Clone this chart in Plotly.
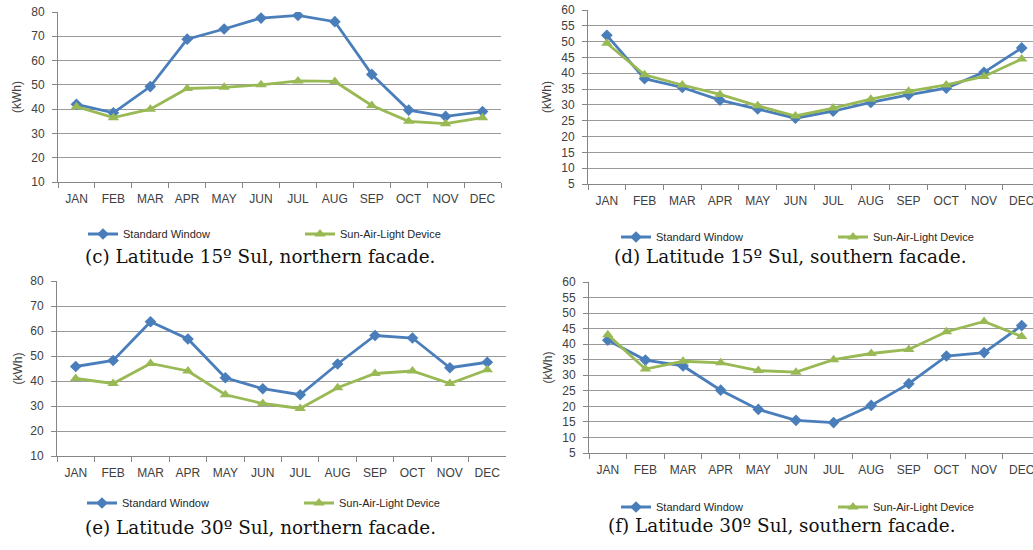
import plotly.graph_objects as go

months = ["JAN", "FEB", "MAR", "APR", "MAY", "JUN", "JUL", "AUG", "SEP", "OCT", "NOV", "DEC"]

# (c) Latitude 15º Sul, northern facade
c_std = [42, 38.5, 49.3, 68.8, 73, 77.5, 78.6, 76, 54.3, 39.6, 37, 39]
c_sal = [41, 36.5, 40, 48.5, 49, 50, 51.6, 51.4, 41.5, 35, 34, 36.5]
# (d) Latitude 15º Sul, southern facade
d_std = [52, 38.3, 35.5, 31.5, 28.7, 25.8, 28, 30.8, 33.2, 35.3, 40.3, 48]
d_sal = [49.5, 39.5, 36.3, 33.3, 29.7, 26.5, 29, 31.8, 34.3, 36.3, 39, 44.5]
# (e) Latitude 30º Sul, northern facade
e_std = [45.8, 48.2, 63.7, 56.8, 41.3, 36.9, 34.5, 46.8, 58.2, 57.2, 45.3, 47.5]
e_sal = [41, 39, 47, 44, 34.5, 31, 29, 37.3, 43, 44, 39, 44.5]
# (f) Latitude 30º Sul, southern facade
f_std = [41.3, 34.9, 33, 25.2, 19, 15.5, 14.8, 20.3, 27.3, 36.2, 37.3, 46]
f_sal = [43, 32, 34.5, 34, 31.5, 31, 35, 37, 38.3, 44, 47.3, 42.5]

series_names = ["Standard Window", "Sun-Air-Light Device"]
captions = ["(c) Latitude 15º Sul, northern facade.",
            "(d) Latitude 15º Sul, southern facade.",
            "(e) Latitude 30º Sul, northern facade.",
            "(f) Latitude 30º Sul, southern facade."]
y_title = "(kWh)"

W, H = 1033, 550
BLUE = "#4A7EBB"
GREEN = "#98B954"
GRID = "#9a9a9a"
AXIS = "#868686"
TXT = "#404040"

def px_x(x):
    return x / W

def px_y(y):
    return 1 - y / H

# panel geometry in screen pixels
panels = [
    dict(std=c_std, sal=c_sal, l=58, r=501, t=12, b=182, yr=[10, 80], dt=10, xr=[-0.5, 11.5],
         leg=(83, 234), cap=(260, 256), ytx=17),
    dict(std=d_std, sal=d_sal, l=588, r=1033, t=10, b=184, yr=[5, 60], dt=5, xr=[-0.5, 11.3],
         leg=(616, 237), cap=(790, 256), ytx=547),
    dict(std=e_std, sal=e_sal, l=57, r=506, t=281, b=456, yr=[10, 80], dt=10, xr=[-0.5, 11.5],
         leg=(82, 503), cap=(260, 527), ytx=17),
    dict(std=f_std, sal=f_sal, l=589, r=1033, t=282, b=453, yr=[5, 60], dt=5, xr=[-0.5, 11.3],
         leg=(616, 507), cap=(782, 525), ytx=547),
]

fig = go.Figure()
annotations = []
layout_upd = {}
for i, p in enumerate(panels):
    n = "" if i == 0 else str(i + 1)
    xa, ya = "x" + n, "y" + n
    leg = "legend" + n
    fig.add_trace(go.Scatter(
        x=months, y=p["std"], name=series_names[0], mode="lines+markers",
        line=dict(color=BLUE, width=2.8), marker=dict(symbol="diamond", size=9, color=BLUE),
        xaxis=xa, yaxis=ya, legend=leg, showlegend=True))
    fig.add_trace(go.Scatter(
        x=months, y=p["sal"], name=series_names[1], mode="lines+markers",
        line=dict(color=GREEN, width=2.8), marker=dict(symbol="triangle-up", size=10, color=GREEN),
        xaxis=xa, yaxis=ya, legend=leg, showlegend=True))
    layout_upd["xaxis" + n] = dict(
        domain=[px_x(p["l"]), px_x(p["r"])], anchor=ya, type="category",
        categoryorder="array", categoryarray=months, range=p["xr"],
        showline=True, linecolor=AXIS, linewidth=1, ticks="outside", tickson="boundaries",
        ticklen=5, tickcolor=AXIS, showgrid=False, zeroline=False, tickangle=0,
        ticklabeloverflow="allow",
        tickfont=dict(family="Liberation Sans", size=12, color=TXT), ticklabelstandoff=6)
    layout_upd["yaxis" + n] = dict(
        domain=[px_y(p["b"]), px_y(p["t"])], anchor=xa, range=p["yr"], dtick=p["dt"],
        showline=True, linecolor=AXIS, linewidth=1, ticks="outside", ticklen=5, tickcolor=AXIS,
        showgrid=True, gridcolor=GRID, gridwidth=1, zeroline=False, ticklabelstandoff=5,
        ticklabeloverflow="allow",
        tickfont=dict(family="Liberation Sans", size=12, color=TXT))
    layout_upd[leg] = dict(
        orientation="h", x=px_x(p["leg"][0]), y=px_y(p["leg"][1]), xanchor="left", yanchor="middle",
        entrywidth=172, entrywidthmode="pixels", bgcolor="rgba(0,0,0,0)",
        font=dict(family="Liberation Sans", size=11, color="#262626"), itemwidth=30,
        tracegroupgap=0)
    annotations.append(dict(
        text=captions[i], x=px_x(p["cap"][0]), y=px_y(p["cap"][1]), xref="paper", yref="paper",
        xanchor="center", yanchor="middle", showarrow=False,
        font=dict(family="DejaVu Serif", size=18.4, color="#111111")))
    annotations.append(dict(
        text=y_title, x=px_x(p["ytx"]), y=px_y((p["t"] + p["b"]) / 2), xref="paper", yref="paper",
        xanchor="center", yanchor="middle", showarrow=False, textangle=-90,
        font=dict(family="Liberation Sans", size=12, color=TXT)))

fig.update_layout(
    width=W, height=H, margin=dict(l=0, r=0, t=0, b=0, autoexpand=False),
    paper_bgcolor="white", plot_bgcolor="white",
    annotations=annotations, **layout_upd)

# remove the default page margin so the 1033x550 figure fills the window exactly
fig.write_html("out.html", config={"displayModeBar": False},
               post_script="document.body.style.margin='0';document.body.style.overflow='hidden';")
